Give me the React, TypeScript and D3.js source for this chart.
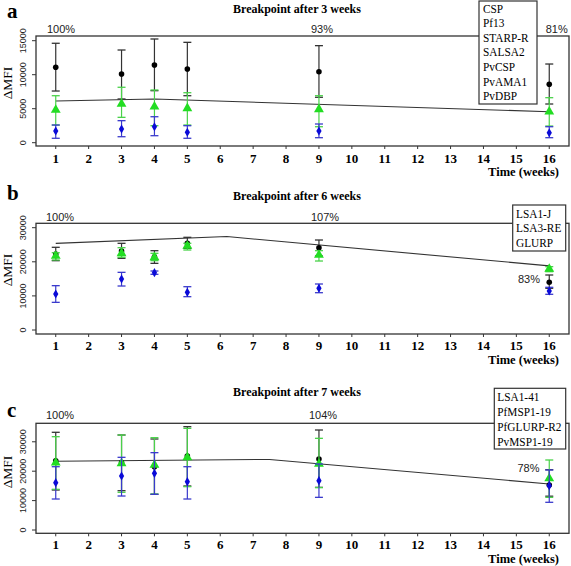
import React from 'react';
import * as d3 from 'd3';

// ---------- data ----------
const weeks = [1, 3, 4, 5, 9, 16];
const xTickLabels = [1, 2, 3, 4, 5, 6, 7, 8, 9, 10, 11, 12, 13, 14, 15, 16];

// Panel a
const aTitle = 'Breakpoint after 3 weeks';
const aLegend = ['CSP', 'Pf13', 'STARP-R', 'SALSA2', 'PvCSP', 'PvAMA1', 'PvDBP'];
const aYTicks = [0, 5000, 10000, 15000];
const aBlackMean = [11090, 10100, 11430, 10840, 10440, 8590];
const aBlackLo = [7600, 6430, 7650, 6910, 6680, 5690];
const aBlackHi = [14620, 13630, 15250, 14760, 14270, 11570];
const aGreenMean = [4810, 5690, 5290, 5060, 4910, 4560];
const aGreenLo = [2600, 3730, 2500, 2600, 2350, 2450];
const aGreenHi = [6910, 8150, 7750, 7350, 6910, 6620];
const aBlueMean = [1720, 2010, 2350, 1530, 1720, 1470];
const aBlueLo = [650, 880, 1030, 650, 735, 735];
const aBlueHi = [2600, 3240, 3820, 2500, 2750, 2350];
const aTrendWeeks = [1, 4, 16];
const aTrendValues = [6130, 6420, 4560];
const aPercents = ['100%', '93%', '81%'];

// Panel b
const bTitle = 'Breakpoint after 6 weeks';
const bLegend = ['LSA1-J', 'LSA3-RE', 'GLURP'];
const bYTicks = [0, 10000, 20000, 30000];
const bBlackMean = [22290, 23170, 21500, 25420, 24140, 13990];
const bBlackLo = [20330, 21020, 19550, 23950, 21700, 12230];
const bBlackHi = [24250, 25420, 23260, 27180, 26390, 16130];
const bGreenMean = [21700, 22490, 21320, 24630, 22000, 17900];
const bGreenLo = [20530, 21320, 20330, 23460, 20230, 17100];
const bGreenHi = [22670, 24140, 22490, 25420, 23260, 18570];
const bBlueMean = [10560, 14960, 16810, 11050, 12230, 11440];
const bBlueLo = [8110, 12900, 16330, 9770, 10940, 10470];
const bBlueHi = [13000, 16910, 17300, 12700, 13490, 12520];
const bTrendWeeks = [1, 6.2, 16];
const bTrendValues = [25400, 27400, 18800];
const bPercents = ['100%', '107%', '83%'];

// Panel c
const cTitle = 'Breakpoint after 7 weeks';
const cLegend = ['LSA1-41', 'PfMSP1-19', 'PfGLURP-R2', 'PvMSP1-19'];
const cYTicks = [0, 10000, 20000, 30000];
const cBlackMean = [23570, 22900, 21530, 25170, 24150, 15310];
const cBlackLo = [13600, 13370, 12140, 14970, 14510, 11500];
const cBlackHi = [33230, 32310, 30950, 35140, 34010, 20500];
const cGreenMean = [22900, 22680, 22110, 24720, 22450, 17570];
const cGreenLo = [13840, 12820, 12240, 14740, 14400, 11110];
const cGreenHi = [31740, 32310, 31400, 34580, 31180, 23810];
const cBlueMean = [16100, 18370, 19270, 16440, 16780, 15080];
const cBlueLo = [10540, 11560, 12140, 10540, 11110, 9420];
const cBlueHi = [21530, 24720, 26300, 21530, 22450, 20410];
const cTrendWeeks = [1, 7.5, 16];
const cTrendValues = [23400, 24000, 15650];
const cPercents = ['100%', '104%', '78%'];

// ---------- styles ----------
const SERIF = '"Liberation Serif", "Times New Roman", serif';
const SANS = '"Liberation Sans", Arial, sans-serif';
const AXIS = '#333';
const COLORS = {
  black: { mark: '#000', bar: '#333' },
  green: { mark: '#22dd22', bar: '#4ad24a' },
  blue: { mark: '#0a0ad8', bar: '#3a3acc' },
};

const X0 = 36;
const X1 = 569;
const x = d3.scaleLinear().domain([0.4, 16.6]).range([X0, X1]);

type Series = { mean: number[]; lo: number[]; hi: number[]; kind: 'black' | 'green' | 'blue' };

type PanelProps = {
  letter: string;
  title: string;
  top: number;
  bottom: number;
  yDomain: [number, number];
  yTicks: number[];
  letterY: number;
  titleY: number;
  tickLabelY: number;
  timeY: number;
  ylabY: number;
  series: Series[];
  trendWeeks: number[];
  trendValues: number[];
  percents: string[];
  pctPos: { x: number; y: number }[];
  legend: string[];
  legendBox: { x: number; y: number; w: number; h: number; tx: number; ty: number; step: number };
};

function Panel(p: PanelProps) {
  const y = d3.scaleLinear().domain(p.yDomain).range([p.bottom, p.top]);
  const line = d3
    .line<number>()
    .x((_, i) => x(p.trendWeeks[i]))
    .y((d) => y(d));
  const tri = d3.symbol().type(d3.symbolTriangle).size(42)();
  const dia = d3.symbol().type(d3.symbolDiamond).size(24)();
  const cap = 4;
  return (
    <g>
      <text x={7} y={p.letterY} fontFamily={SERIF} fontWeight="bold" fontSize={21}>
        {p.letter}
      </text>
      <text x={297} y={p.titleY} fontFamily={SERIF} fontWeight="bold" fontSize={12} textAnchor="middle">
        {p.title}
      </text>
      {/* box */}
      <rect x={X0} y={p.top} width={X1 - X0} height={p.bottom - p.top} fill="none" stroke={AXIS} strokeWidth={1.3} />
      {/* y axis */}
      {p.yTicks.map((t) => (
        <g key={t}>
          <line x1={X0 - 4} x2={X0} y1={y(t)} y2={y(t)} stroke={AXIS} strokeWidth={1} />
          <text
            transform={`translate(23,${y(t)}) rotate(-90)`}
            textAnchor="middle"
            dominantBaseline="central"
            fontFamily={SANS}
            fontSize={9}
            fill="#222"
          >
            {t}
          </text>
        </g>
      ))}
      <text
        transform={`translate(7.5,${p.ylabY}) rotate(-90)`}
        textAnchor="middle"
        dominantBaseline="central"
        fontFamily={SERIF}
        fontSize={13.5}
      >
        ΔMFI
      </text>
      {/* x axis */}
      {xTickLabels.map((t) => (
        <g key={t}>
          <line x1={x(t)} x2={x(t)} y1={p.bottom} y2={p.bottom + 3} stroke={AXIS} strokeWidth={1} />
          <text x={x(t)} y={p.tickLabelY} textAnchor="middle" fontFamily={SERIF} fontWeight="bold" fontSize={13}>
            {t}
          </text>
        </g>
      ))}
      <text x={559} y={p.timeY} textAnchor="end" fontFamily={SERIF} fontWeight="bold" fontSize={12.5}>
        Time (weeks)
      </text>
      {/* trend */}
      <path d={line(p.trendValues) || ''} fill="none" stroke="#333" strokeWidth={1.1} />
      {/* series */}
      {p.series.map((s, si) => (
        <g key={si}>
          {weeks.map((w, i) => {
            const cx = x(w);
            const c = COLORS[s.kind];
            return (
              <g key={i}>
                <line x1={cx} x2={cx} y1={y(s.lo[i])} y2={y(s.hi[i])} stroke={c.bar} strokeWidth={1.2} />
                <line x1={cx - cap} x2={cx + cap} y1={y(s.lo[i])} y2={y(s.lo[i])} stroke={c.bar} strokeWidth={1.3} />
                <line x1={cx - cap} x2={cx + cap} y1={y(s.hi[i])} y2={y(s.hi[i])} stroke={c.bar} strokeWidth={1.3} />
                {s.kind === 'black' && <circle cx={cx} cy={y(s.mean[i])} r={2.8} fill={c.mark} />}
                {s.kind === 'green' && (
                  <path d={tri || ''} transform={`translate(${cx},${y(s.mean[i])})`} fill={c.mark} />
                )}
                {s.kind === 'blue' && (
                  <path d={dia || ''} transform={`translate(${cx},${y(s.mean[i])})`} fill={c.mark} />
                )}
              </g>
            );
          })}
        </g>
      ))}
      {/* percent labels */}
      {p.percents.map((t, i) => (
        <text key={t} x={p.pctPos[i].x} y={p.pctPos[i].y} textAnchor="middle" fontFamily={SANS} fontSize={11} fill="#222">
          {t}
        </text>
      ))}
      {/* legend */}
      <rect
        x={p.legendBox.x}
        y={p.legendBox.y}
        width={p.legendBox.w}
        height={p.legendBox.h}
        fill="#fff"
        stroke={AXIS}
        strokeWidth={1.2}
      />
      {p.legend.map((t, i) => (
        <text
          key={t}
          transform={`translate(${p.legendBox.tx},${p.legendBox.ty + i * p.legendBox.step}) scale(0.84,1)`}
          fontFamily={SERIF}
          fontSize={13.5}
        >
          {t}
        </text>
      ))}
    </g>
  );
}

export default function App() {
  return (
    <svg
      width={571}
      height={566}
      style={{ position: 'absolute', left: 0, top: 0, background: '#fff' }}
    >
      <rect width={571} height={566} fill="#fff" />
      <Panel
        letter="a"
        title={aTitle}
        top={36}
        bottom={146}
        yDomain={[-485, 15690]}
        yTicks={aYTicks}
        letterY={18}
        titleY={13}
        tickLabelY={163}
        timeY={176}
        ylabY={83}
        series={[
          { kind: 'black', mean: aBlackMean, lo: aBlackLo, hi: aBlackHi },
          { kind: 'green', mean: aGreenMean, lo: aGreenLo, hi: aGreenHi },
          { kind: 'blue', mean: aBlueMean, lo: aBlueLo, hi: aBlueHi },
        ]}
        trendWeeks={aTrendWeeks}
        trendValues={aTrendValues}
        percents={aPercents}
        pctPos={[
          { x: 61, y: 33 },
          { x: 322, y: 33 },
          { x: 556.7, y: 33 },
        ]}
        legend={aLegend}
        legendBox={{ x: 479, y: 1, w: 58, h: 103, tx: 483, ty: 12.5, step: 14.6 }}
      />
      <Panel
        letter="b"
        title={bTitle}
        top={223.3}
        bottom={334}
        yDomain={[-1173, 31290]}
        yTicks={bYTicks}
        letterY={200}
        titleY={200}
        tickLabelY={350}
        timeY={364}
        ylabY={270}
        series={[
          { kind: 'black', mean: bBlackMean, lo: bBlackLo, hi: bBlackHi },
          { kind: 'green', mean: bGreenMean, lo: bGreenLo, hi: bGreenHi },
          { kind: 'blue', mean: bBlueMean, lo: bBlueLo, hi: bBlueHi },
        ]}
        trendWeeks={bTrendWeeks}
        trendValues={bTrendValues}
        percents={bPercents}
        pctPos={[
          { x: 60, y: 221 },
          { x: 325, y: 221 },
          { x: 529, y: 283 },
        ]}
        legend={bLegend}
        legendBox={{ x: 512.7, y: 205, w: 53, h: 46, tx: 516, ty: 217.8, step: 14.5 }}
      />
      <Panel
        letter="c"
        title={cTitle}
        top={423.3}
        bottom={533.3}
        yDomain={[-1122, 36290]}
        yTicks={cYTicks}
        letterY={417}
        titleY={396}
        tickLabelY={549}
        timeY={563}
        ylabY={472}
        series={[
          { kind: 'black', mean: cBlackMean, lo: cBlackLo, hi: cBlackHi },
          { kind: 'green', mean: cGreenMean, lo: cGreenLo, hi: cGreenHi },
          { kind: 'blue', mean: cBlueMean, lo: cBlueLo, hi: cBlueHi },
        ]}
        trendWeeks={cTrendWeeks}
        trendValues={cTrendValues}
        percents={cPercents}
        pctPos={[
          { x: 60, y: 419 },
          { x: 323, y: 419 },
          { x: 528.5, y: 472 },
        ]}
        legend={cLegend}
        legendBox={{ x: 494.3, y: 388.3, w: 71.4, h: 60.7, tx: 497.3, ty: 401.2, step: 14.8 }}
      />
    </svg>
  );
}
